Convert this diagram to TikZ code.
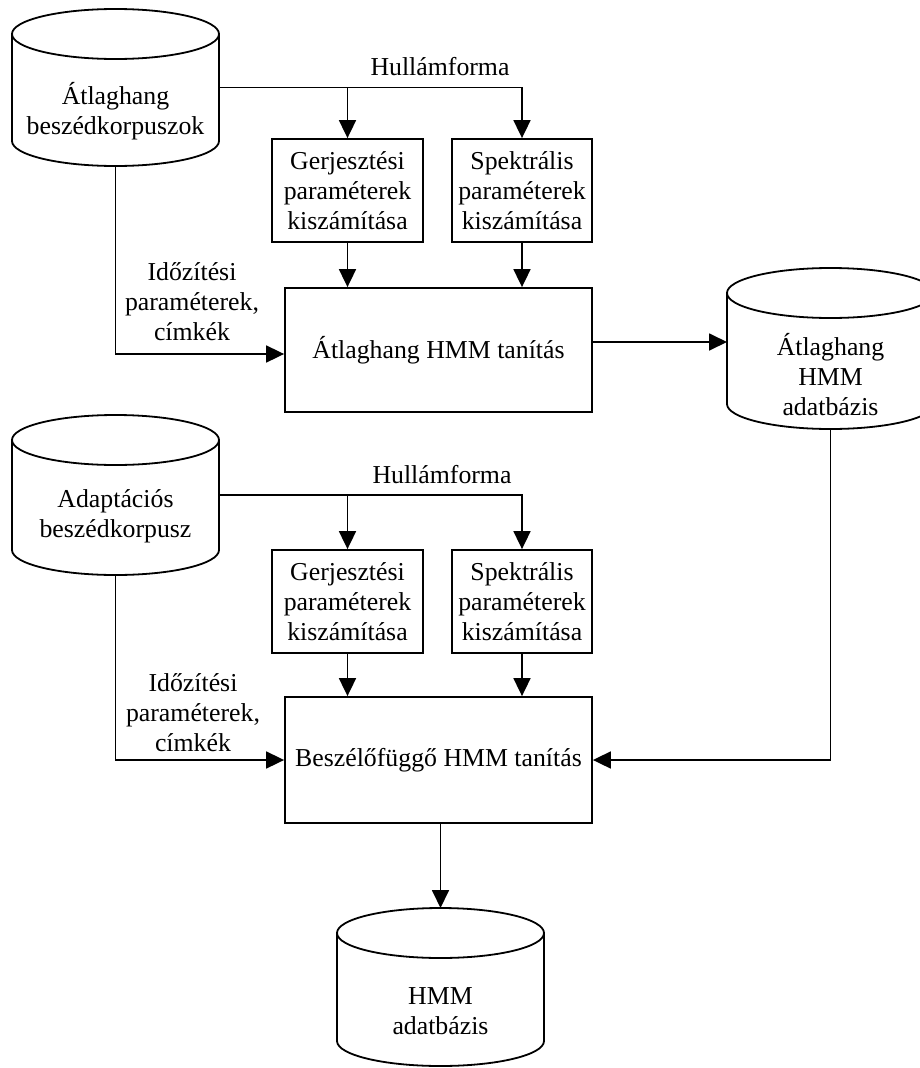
\documentclass[tikz,border=0pt]{standalone}
\usepackage{fontspec}
\setmainfont{Liberation Serif}
\usetikzlibrary{arrows.meta,calc}

% Database cylinder outline drawn around a named (invisible) node:
% side walls, lower front arc and the full top ellipse.
\newcommand\dbshape[1]{%
  \draw[outline] ($(#1.north west)+(0pt,-25pt)$) -- ($(#1.south west)+(0pt,25pt)$)
    arc[start angle=180, end angle=360, x radius=103.5pt, y radius=25pt]
    -- ($(#1.north east)+(0pt,-25pt)$);
  \draw[outline] ($(#1.north)+(0pt,-25pt)$) ellipse[x radius=103.5pt, y radius=25pt];
}

\begin{document}
\begin{tikzpicture}[x=1pt, y=-1pt,
  every node/.style={font=\fontsize{25.8}{30}\selectfont, align=center, inner sep=0pt},
  outline/.style={line width=1.8pt},
  arr/.style={line width=1.8pt, -{Triangle[length=18pt, width=17pt]}},
  calcbox/.style={draw, line width=1.8pt, minimum height=103pt},
  trainbox/.style={draw, line width=1.8pt, minimum width=307pt},
  db/.style={minimum width=207pt, outer sep=0pt}]

\clip (0,0) rectangle (920,1068);

% ---------- average-voice training ----------
\node[db, minimum height=157pt] (c1) at (115.5,87.5) {};
\dbshape{c1}
\node at ($(c1.center)+(0pt,-24pt)$) {Átlaghang\\beszédkorpuszok};

\node (hf1) at (440,67) {Hullámforma};

\node[calcbox, minimum width=151pt] (g1) at (347.5,190.5) {Gerjesztési\\paraméterek\\kiszámítása};
\node[calcbox, minimum width=140pt] (s1) at (522,190.5) {Spektrális\\paraméterek\\kiszámítása};

\node[trainbox, minimum height=124pt] (m1) at (438.5,350) {Átlaghang HMM tanítás};

\node (t1) at (192,302) {Időzítési\\paraméterek,\\címkék};

\node[db, minimum height=161pt] (c2) at (830.5,348.5) {};
\dbshape{c2}
\node at ($(c2.center)+(0pt,-26pt)$) {Átlaghang\\HMM\\adatbázis};

\draw[arr] (c1.east) -| (s1.north);
\draw[arr] (c1.east -| g1.north) -- (g1.north);
\draw[arr] (g1.south) -- (g1.south |- m1.north);
\draw[arr] (s1.south) -- (s1.south |- m1.north);
\draw[arr] (c1.south) |- ([yshift=-4pt]m1.west);
\draw[arr] ([yshift=8pt]m1.east) -- ([yshift=8pt]m1.east -| c2.west);

% ---------- speaker-dependent adaptation ----------
\node[db, minimum height=160pt] (c3) at (115.5,495) {};
\dbshape{c3}
\node at ($(c3.center)+(0pt,-21pt)$) {Adaptációs\\beszédkorpusz};

\node (hf2) at (442,475) {Hullámforma};

\node[calcbox, minimum width=151pt] (g2) at (347.5,601.5) {Gerjesztési\\paraméterek\\kiszámítása};
\node[calcbox, minimum width=140pt] (s2) at (522,601.5) {Spektrális\\paraméterek\\kiszámítása};

\node[trainbox, minimum height=126pt] (m2) at (438.5,760) {Beszélőfüggő HMM tanítás};

\node (t2) at (193,713) {Időzítési\\paraméterek,\\címkék};

\node[db, minimum height=158pt] (c4) at (440.5,987) {};
\dbshape{c4}
\node at ($(c4.center)+(0pt,-24pt)$) {HMM\\adatbázis};

\draw[arr] (c3.east) -| (s2.north);
\draw[arr] (c3.east -| g2.north) -- (g2.north);
\draw[arr] (g2.south) -- (g2.south |- m2.north);
\draw[arr] (s2.south) -- (s2.south |- m2.north);
\draw[arr] (c3.south) |- (m2.west);
\draw[arr] (c2.south) |- (m2.east);
\draw[arr] (c4.north |- m2.south) -- (c4.north);

\end{tikzpicture}
\end{document}
